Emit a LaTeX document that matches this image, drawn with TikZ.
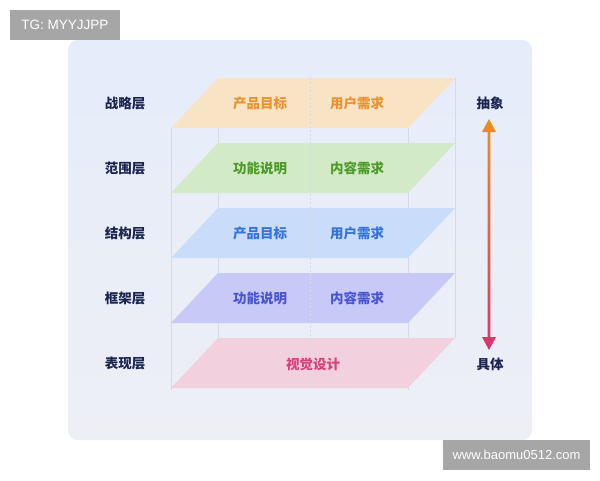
\documentclass[tikz,border=0pt]{standalone}
\usepackage{fontspec}
\setmainfont{Liberation Sans}
\newfontfamily\cjk{Noto Sans CJK SC}
\definecolor{navy}{HTML}{1B2550}
\definecolor{wmgray}{HTML}{A6A6A6}
\definecolor{panelTop}{HTML}{E5ECFA}
\definecolor{panelBot}{HTML}{EDEFF5}
\definecolor{edge}{HTML}{D3DAE8}
\definecolor{fA}{HTML}{F8E3C5}\definecolor{tA}{HTML}{E8932E}
\definecolor{fB}{HTML}{D2EBC6}\definecolor{tB}{HTML}{4E9A2C}
\definecolor{fC}{HTML}{C9DCFA}\definecolor{tC}{HTML}{3573D8}
\definecolor{fD}{HTML}{C7CAF7}\definecolor{tD}{HTML}{4A54D0}
\definecolor{fE}{HTML}{F2D0DE}\definecolor{tE}{HTML}{D8407B}
\definecolor{arrTop}{HTML}{E8901C}
\definecolor{arrBot}{HTML}{D8336E}
\begin{document}
\begin{tikzpicture}[x=1pt,y=-1pt,
  lbl/.style={font=\cjk\bfseries\fontsize{13.5}{13.5}\selectfont, text=navy, inner sep=0pt, text height=11.8pt, text depth=1.7pt},
  cell/.style={font=\cjk\bfseries\fontsize{13.5}{13.5}\selectfont, inner sep=0pt, text height=11.8pt, text depth=1.7pt},
  wm/.style={fill=wmgray, text=white, inner sep=0pt, minimum height=30pt},
  edgeline/.style={draw=edge, line width=0.7pt},
  divider/.style={draw=edge, line width=0.6pt, dash pattern=on 2pt off 2pt}
]
\useasboundingbox (0,0) rectangle (600,480);
\fill[white] (0,0) rectangle (600,480);
% panel
\shade[rounded corners=10pt, top color=panelTop, bottom color=panelBot] (68,40) rectangle (532,440);
% faint box edges
\draw[edgeline] (171,128) -- (171,390);
\draw[edgeline] (218,78) -- (218,338);
\draw[edgeline] (408,128) -- (408,390);
\draw[edgeline] (455,78) -- (455,338);
% layers
\foreach \t/\c in {78/fA,143/fB,208/fC,273/fD,338/fE}{
  \fill[\c] (218,\t) -- (455,\t) -- (408,\t+50) -- (171,\t+50) -- cycle;
}
\draw[divider] (310,78) -- (310,390);
% left labels
\node[lbl] (s1) at (125,103) {战略层};
\node[lbl] (s2) at (125,168) {范围层};
\node[lbl] (s3) at (125,233) {结构层};
\node[lbl] (s4) at (125,298) {框架层};
\node[lbl] (s5) at (125,363) {表现层};
% cells
\node[cell,text=tA] (a1) at (260,103) {产品目标};
\node[cell,text=tA] (a2) at (357,103) {用户需求};
\node[cell,text=tB] (b1) at (260,168) {功能说明};
\node[cell,text=tB] (b2) at (357,168) {内容需求};
\node[cell,text=tC] (c1) at (260,233) {产品目标};
\node[cell,text=tC] (c2) at (357,233) {用户需求};
\node[cell,text=tD] (d1) at (260,298) {功能说明};
\node[cell,text=tD] (d2) at (357,298) {内容需求};
\node[cell,text=tE] (e1) at (313,364) {视觉设计};
% right labels
\node[lbl] (abs) at (490,103) {抽象};
\node[lbl] (conc) at (490,364) {具体};
% arrow
\coordinate (atop) at (489,119);
\coordinate (abot) at (489,350);
\shade[top color=arrTop, bottom color=arrBot]
  (atop) -- ([xshift=-7pt,yshift=-13pt]atop) -- ([xshift=-1.4pt,yshift=-13pt]atop)
  -- ([xshift=-1.4pt,yshift=13pt]abot) -- ([xshift=-7pt,yshift=13pt]abot) -- (abot)
  -- ([xshift=7pt,yshift=13pt]abot) -- ([xshift=1.4pt,yshift=13pt]abot)
  -- ([xshift=1.4pt,yshift=-13pt]atop) -- ([xshift=7pt,yshift=-13pt]atop) -- cycle;
% watermarks
\node[wm, minimum width=110pt, font=\fontsize{13.5}{13.5}\selectfont] (w1) at (65,25) {TG: MYYJJPP};
\node[wm, minimum width=147pt, font=\fontsize{13}{13}\selectfont] (w2) at (516.5,455) {www.baomu0512.com};
\end{tikzpicture}
\end{document}
